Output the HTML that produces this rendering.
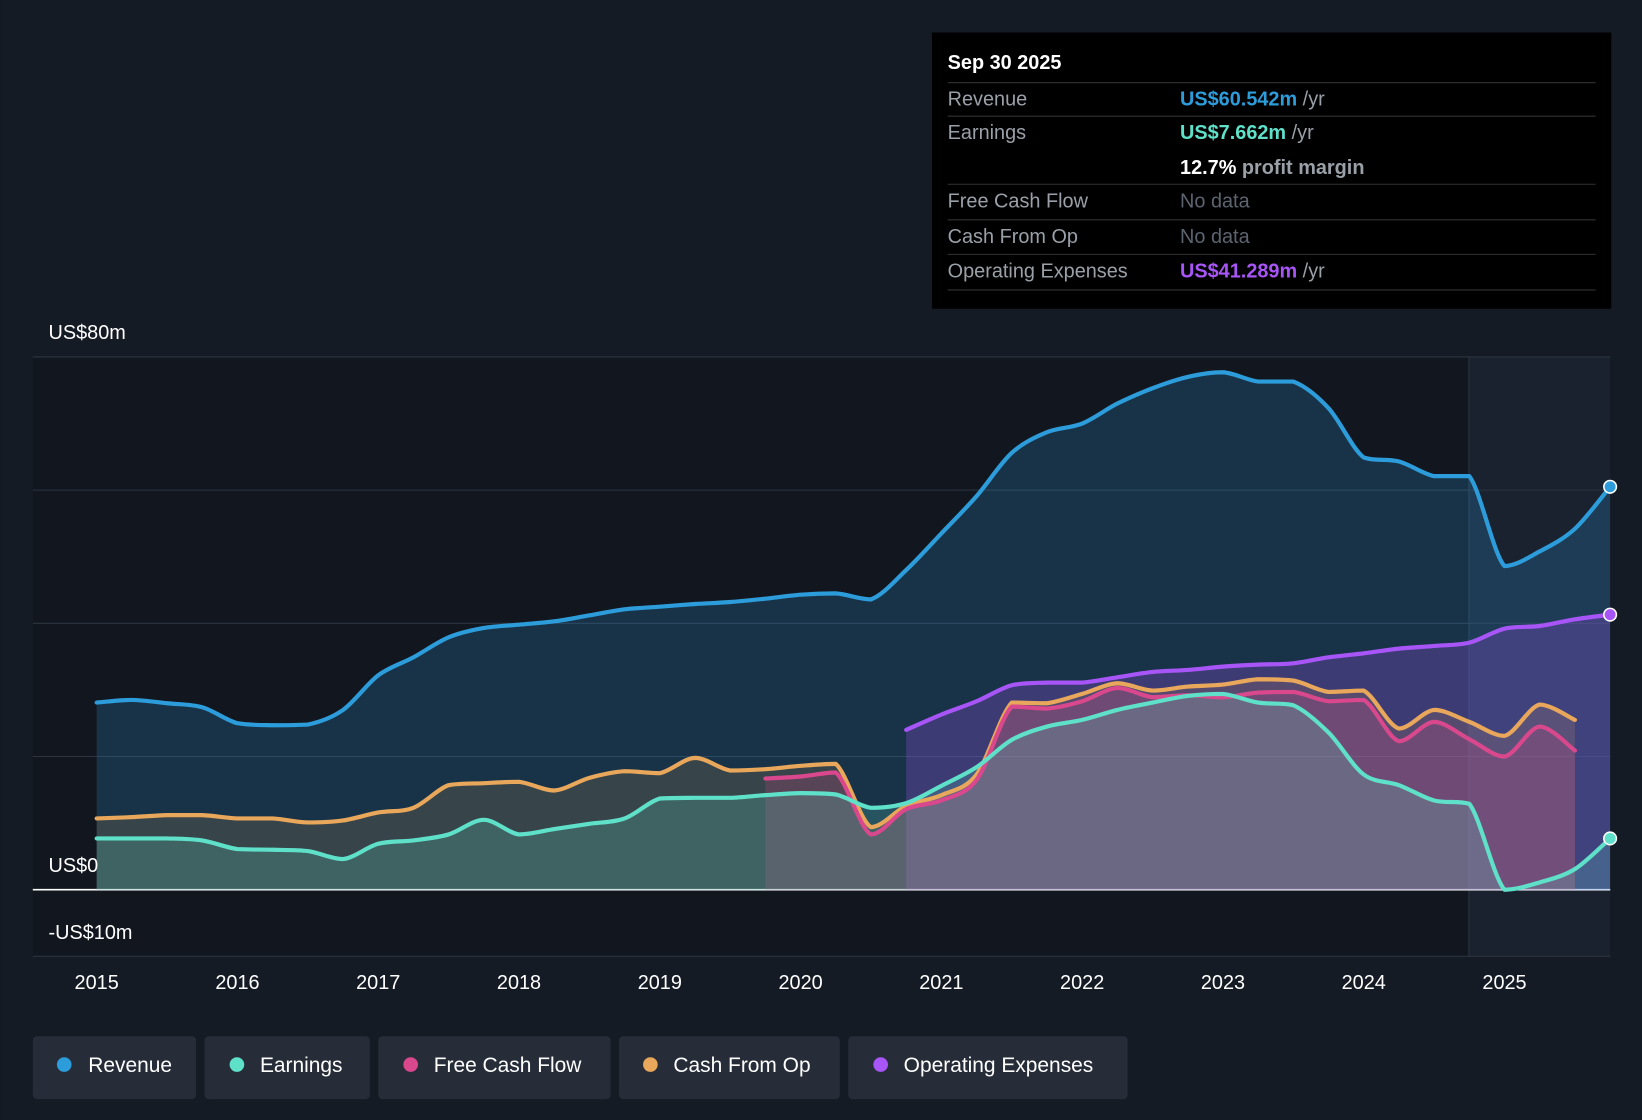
<!DOCTYPE html>
<html><head><meta charset="utf-8"><style>
html,body{margin:0;padding:0;background:#151b24;}
svg{display:block;font-family:"Liberation Sans",sans-serif;}
</style></head><body>
<svg id="chart" width="1642" height="1120" viewBox="0 0 1568 1070" xmlns="http://www.w3.org/2000/svg">
<rect x="0" y="0" width="1568" height="1070" fill="#151b24"/>
<rect x="31" y="341" width="1507" height="573" fill="#12171f"/>
<rect x="1403" y="341" width="135" height="573" fill="#1a2230"/>
<line x1="1403" y1="341" x2="1403" y2="914" stroke="#2a3342"/>
<g id="grid"></g>
<g id="areas"></g>
<g id="lines"></g>
<g id="xaxis"></g>
<text x="46" y="324" fill="#fff" font-size="19">US$80m</text>
<text x="46" y="833" fill="#fff" font-size="19">US$0</text>
<text x="46" y="897" fill="#fff" font-size="19">-US$10m</text>

<g>
<rect x="890" y="31" width="649" height="264" fill="#000"/>
<text x="905" y="66" fill="#fff" font-size="19" font-weight="bold">Sep 30 2025</text>
<line x1="905" y1="79" x2="1524" y2="79" stroke="#333"/>
<text x="905" y="101" fill="#9aa0a8" font-size="19">Revenue</text>
<text x="1127" y="101" font-size="19"><tspan fill="#2d9cdb" font-weight="bold">US$60.542m</tspan><tspan fill="#9aa0a8"> /yr</tspan></text>
<line x1="905" y1="111" x2="1524" y2="111" stroke="#333"/>
<text x="905" y="133" fill="#9aa0a8" font-size="19">Earnings</text>
<text x="1127" y="133" font-size="19"><tspan fill="#5fe0c9" font-weight="bold">US$7.662m</tspan><tspan fill="#9aa0a8"> /yr</tspan></text>
<text x="1127" y="166" font-size="19"><tspan fill="#fff" font-weight="bold">12.7%</tspan><tspan fill="#9aa0a8" font-weight="bold"> profit margin</tspan></text>
<line x1="905" y1="176" x2="1524" y2="176" stroke="#333"/>
<text x="905" y="198" fill="#9aa0a8" font-size="19">Free Cash Flow</text>
<text x="1127" y="198" fill="#5c6470" font-size="19">No data</text>
<line x1="905" y1="210" x2="1524" y2="210" stroke="#333"/>
<text x="905" y="232" fill="#9aa0a8" font-size="19">Cash From Op</text>
<text x="1127" y="232" fill="#5c6470" font-size="19">No data</text>
<line x1="905" y1="243" x2="1524" y2="243" stroke="#333"/>
<text x="905" y="265" fill="#9aa0a8" font-size="19">Operating Expenses</text>
<text x="1127" y="265" font-size="19"><tspan fill="#a855f7" font-weight="bold">US$41.289m</tspan><tspan fill="#9aa0a8"> /yr</tspan></text>
<line x1="905" y1="277" x2="1524" y2="277" stroke="#333"/>
</g>

<g>
<g><rect x="31" y="990" width="156" height="60" rx="4" fill="#262d38"/><circle cx="61" cy="1017" r="7" fill="#2d9cdb"/><text x="84" y="1024" fill="#fff" font-size="20">Revenue</text></g>
<g><rect x="195" y="990" width="158" height="60" rx="4" fill="#262d38"/><circle cx="226" cy="1017" r="7" fill="#5fe0c9"/><text x="248" y="1024" fill="#fff" font-size="20">Earnings</text></g>
<g><rect x="361" y="990" width="222" height="60" rx="4" fill="#262d38"/><circle cx="392" cy="1017" r="7" fill="#d9488c"/><text x="414" y="1024" fill="#fff" font-size="20">Free Cash Flow</text></g>
<g><rect x="591" y="990" width="211" height="60" rx="4" fill="#262d38"/><circle cx="621" cy="1017" r="7" fill="#e8a75a"/><text x="643" y="1024" fill="#fff" font-size="20">Cash From Op</text></g>
<g><rect x="810" y="990" width="267" height="60" rx="4" fill="#262d38"/><circle cx="841" cy="1017" r="7" fill="#a855f7"/><text x="863" y="1024" fill="#fff" font-size="20">Operating Expenses</text></g>
</g>
</svg>
<script>
const years = [2015,2016,2017,2018,2019,2020,2021,2022,2023,2024,2025];
const revenueStart = 2015;
const revenue = [28.1,28.5,28,27.4,25,24.7,24.8,27,32.2,34.9,37.9,39.3,39.8,40.3,41.2,42.1,42.5,42.9,43.2,43.7,44.3,44.5,43.6,48,53.5,59.1,65.6,68.7,70,73,75.3,77,77.7,76.3,76.3,72.3,64.9,64.3,62.1,62.1,48.6,50.8,54.2,60.5];
const earningsStart = 2015;
const earnings = [7.7,7.7,7.7,7.4,6.1,6,5.8,4.6,6.9,7.4,8.3,10.5,8.3,9.1,9.9,10.7,13.7,13.8,13.8,14.2,14.5,14.3,12.3,13,15.6,18.4,22.5,24.5,25.5,27,28.1,29.1,29.4,28.1,27.7,23.6,17.3,15.7,13.4,12.9,0,1.1,3.1,7.7];
const cfoStart = 2015;
const cashFromOp = [10.7,10.9,11.2,11.2,10.7,10.7,10.1,10.4,11.6,12.3,15.7,16,16.2,14.9,16.8,17.8,17.5,19.8,17.9,18.1,18.6,18.9,9.4,12.6,14.2,17.3,28.1,28,29.4,31,29.9,30.5,30.8,31.6,31.4,29.7,29.9,24.2,27,25.2,23.1,27.8,25.5];
const fcfStart = 2019.75;
const freeCashFlow = [16.7,17,17.6,8.3,12.1,13.4,16.5,27.5,27.2,28.3,30.3,28.9,29.2,28.9,29.6,29.7,28.3,28.5,22.3,25.2,22.6,20,24.5,20.9];
const opexStart = 2020.75;
const opex = [24,26.3,28.3,30.7,31.1,31.1,31.9,32.7,33,33.5,33.8,34,34.9,35.5,36.2,36.6,37.1,39.2,39.6,40.6,41.3];
const yTicks = [-10,0,20,40,60,80];

const X = yr => 92 + (yr-2015)*134.5;
const Y = v => 850 - v*6.3625;
const NS = "http://www.w3.org/2000/svg";
function mk(tag, attrs, parent){const e=document.createElementNS(NS,tag);for(const k in attrs)e.setAttribute(k,attrs[k]);parent.appendChild(e);return e;}
function pts(start, vals){return vals.map((v,i)=>[X(start+i*0.25),Y(v)]);}
function clamp(v,a,b){const lo=Math.min(a,b),hi=Math.max(a,b);return Math.max(lo,Math.min(hi,v));}
function smooth(p){let d=`M${p[0][0]},${p[0][1]}`;for(let i=0;i<p.length-1;i++){const p0=p[i-1]||p[i],p1=p[i],p2=p[i+1],p3=p[i+2]||p2;const t=0.16;
 const c1y=clamp(p1[1]+(p2[1]-p0[1])*t,p1[1],p2[1]);const c2y=clamp(p2[1]-(p3[1]-p1[1])*t,p1[1],p2[1]);
 d+=` C${p1[0]+(p2[0]-p0[0])*t},${c1y} ${p2[0]-(p3[0]-p1[0])*t},${c2y} ${p2[0]},${p2[1]}`;}return d;}

const grid=document.getElementById('grid');
yTicks.forEach(v=>{
  const l=mk('line',{x1:31,x2:1538,y1:Y(v),y2:Y(v),stroke:v===0?'#ffffff':'#2c3440','stroke-width':v===0?1.5:1},grid);
  
  
});
const xa=document.getElementById('xaxis');
years.forEach(y=>{
  const t=mk('text',{x:X(y),y:945,fill:'#fff','font-size':19,'text-anchor':'middle'},xa);t.textContent=y;
  
  
});

const series=[
 {name:'revenue',start:revenueStart,vals:revenue,color:'#2d9cdb',fill:'rgba(45,156,219,0.22)',dot:true},
 {name:'opex',start:opexStart,vals:opex,color:'#a855f7',fill:'rgba(168,85,247,0.25)',dot:true},
 {name:'cash-from-op',start:cfoStart,vals:cashFromOp,color:'#e8a75a',fill:'rgba(232,167,90,0.15)'},
 {name:'free-cash-flow',start:fcfStart,vals:freeCashFlow,color:'#d9488c',fill:'rgba(217,72,140,0.2)'},
 {name:'earnings',start:earningsStart,vals:earnings,color:'#5fe0c9',fill:'rgba(95,224,201,0.2)',dot:true}
];
const areas=document.getElementById('areas'),lines=document.getElementById('lines');
series.forEach(s=>{
  const p=pts(s.start,s.vals);const d=smooth(p);
  const a=mk('path',{d:d+` L${p[p.length-1][0]},${Y(0)} L${p[0][0]},${Y(0)} Z`,fill:s.fill},areas);
  
  
});
series.forEach(s=>{
  const p=pts(s.start,s.vals);
  const l=mk('path',{d:smooth(p),fill:'none',stroke:s.color,'stroke-width':4,'stroke-linejoin':'round','stroke-linecap':'round'},lines);
  
  
  if(s.dot){const q=p[p.length-1];
    const c=mk('circle',{cx:q[0],cy:q[1],r:6,fill:s.color,stroke:'#fff','stroke-width':1.5},lines);
    
    }
});
</script>
</body></html>
